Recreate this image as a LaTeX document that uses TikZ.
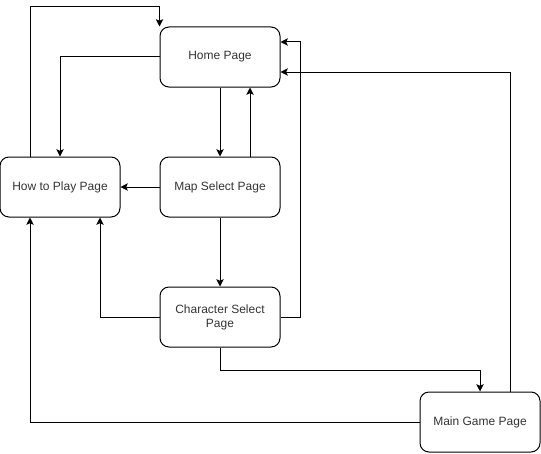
\documentclass[tikz,border=0pt]{standalone}
\usepackage{fontspec}
\setmainfont{Liberation Sans}
\usetikzlibrary{arrows.meta}
\begin{document}
\begin{tikzpicture}[x=0.75pt,y=-0.75pt,
  page/.style={draw=black, line width=0.75pt, rounded corners=6.75pt, minimum width=90pt, minimum height=45pt, inner sep=2pt, align=center, font=\fontsize{9}{10.5}\selectfont, text=black!80},
  arr/.style={draw=black, line width=0.75pt, -{Stealth[length=5.5pt,width=5.5pt,inset=1.2pt]}}]
\useasboundingbox (0,0) rectangle (541,453);
\node[page] (home) at (220,57) {Home Page};
\node[page] (htp) at (60,187) {How to Play Page};
\node[page] (map) at (220,187) {Map Select Page};
\node[page] (char) at (220,317) {Character Select\\Page};
\node[page] (main) at (480,422) {Main Game Page};
\coordinate (t1) at (30,7);
\draw[arr] (htp.north -| t1) -- (t1) -| (home.north west);
\draw[arr] (home.west) -| (htp.north);
\draw[arr] (home.south) -- (map.north);
\draw[arr] ([xshift=22.5pt]map.north) -- ([xshift=22.5pt]home.south);
\draw[arr] (map.west) -- (htp.east);
\draw[arr] (map.south) -- (char.north);
\draw[arr] (char.west) -| ([xshift=30pt]htp.south);
\draw[arr] (char.east) -- ++(20,0) |- ([yshift=11.25pt]home.east);
\draw[arr] (char.south) -- ++(0,23) -| (main.north);
\draw[arr] ([xshift=22.5pt]main.north) |- ([yshift=-11.25pt]home.east);
\draw[arr] (main.west) -| ([xshift=-22.5pt]htp.south);
\end{tikzpicture}
\end{document}
